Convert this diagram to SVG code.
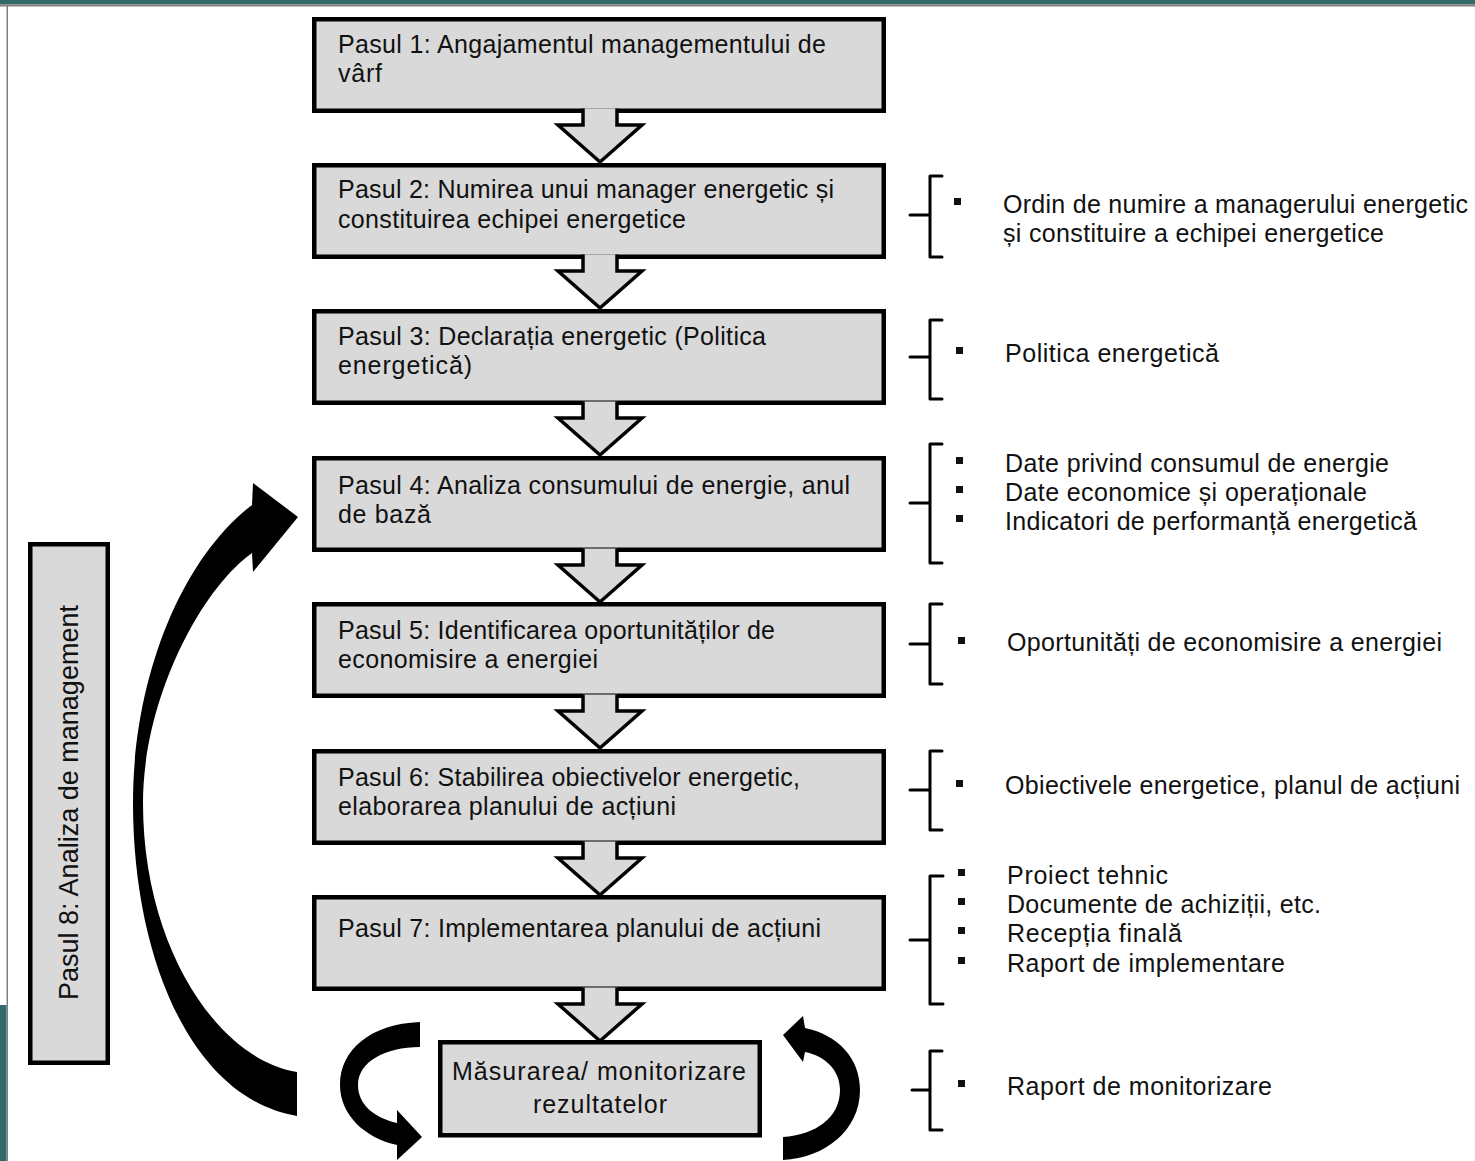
<svg xmlns="http://www.w3.org/2000/svg" xmlns:xlink="http://www.w3.org/1999/xlink" width="1475" height="1161" viewBox="0 0 1475 1161">
<defs>
<style>
.box{fill:#d9d9d9;stroke:#000;stroke-width:4.5}
.t{font-family:"Liberation Sans",Arial,sans-serif;font-size:25px;fill:#111}
.brace{fill:none;stroke:#000;stroke-width:3;stroke-linecap:round;stroke-linejoin:round}
.bul{fill:#111}
.dn{fill:#d9d9d9;stroke:#000;stroke-width:3.5;stroke-linejoin:miter}
.blk{fill:#000}
</style>
<path id="dn" class="dn" d="M583,-4.5 L583,12 L558,12 L600,49 L642,12 L617,12 L617,-4.5"/>
</defs>
<rect x="0" y="0" width="1475" height="1161" fill="#fff"/>
<rect x="0" y="0" width="1475" height="4.5" fill="#336a69"/>
<rect x="0" y="4.5" width="1475" height="2" fill="#808080"/>
<rect x="6.5" y="6" width="1.5" height="1155" fill="#808080"/>
<rect x="0" y="1005" width="6.5" height="156" fill="#336a69"/>

<g id="node-step1"><rect class="box" x="314.25" y="19.25" width="569.5" height="91.5"/>
<text class="t" x="338" y="53" textLength="488">Pasul 1: Angajamentul managementului de</text>
<text class="t" x="338" y="82" textLength="44">vârf</text></g>

<g id="node-step2"><rect class="box" x="314.25" y="165.25" width="569.5" height="91.5"/>
<text class="t" x="338" y="198" textLength="496">Pasul 2: Numirea unui manager energetic și</text>
<text class="t" x="338" y="228" textLength="348">constituirea echipei energetice</text></g>

<g id="node-step3"><rect class="box" x="314.25" y="311.25" width="569.5" height="91.5"/>
<text class="t" x="338" y="345" textLength="428">Pasul 3: Declarația energetic (Politica</text>
<text class="t" x="338" y="374" textLength="134">energetică)</text></g>

<g id="node-step4"><rect class="box" x="314.25" y="458.25" width="569.5" height="91.5"/>
<text class="t" x="338" y="494" textLength="512">Pasul 4: Analiza consumului de energie, anul</text>
<text class="t" x="338" y="523" textLength="93">de bază</text></g>

<g id="node-step5"><rect class="box" x="314.25" y="604.25" width="569.5" height="91.5"/>
<text class="t" x="338" y="639" textLength="437">Pasul 5: Identificarea oportunităților de</text>
<text class="t" x="338" y="668" textLength="260">economisire a energiei</text></g>

<g id="node-step6"><rect class="box" x="314.25" y="751.25" width="569.5" height="91.5"/>
<text class="t" x="338" y="786" textLength="462">Pasul 6: Stabilirea obiectivelor energetic,</text>
<text class="t" x="338" y="815" textLength="338">elaborarea planului de acțiuni</text></g>

<g id="node-step7"><rect class="box" x="314.25" y="897.25" width="569.5" height="91.5"/>
<text class="t" x="338" y="937" textLength="483">Pasul 7: Implementarea planului de acțiuni</text></g>

<g id="node-measure"><rect class="box" x="440.25" y="1042.25" width="319.5" height="93"/>
<text class="t" x="452" y="1080" textLength="294">Măsurarea/ monitorizare</text>
<text class="t" x="533" y="1113" textLength="134">rezultatelor</text></g>

<g id="node-step8"><rect class="box" x="30.25" y="544.25" width="77.5" height="518.5"/>
<text class="t" style="font-size:27px" transform="translate(78,1000) rotate(-90)" textLength="395">Pasul 8: Analiza de management</text></g>

<g id="connectors">
<use xlink:href="#dn" href="#dn" transform="translate(0,113)"/>
<use xlink:href="#dn" href="#dn" transform="translate(0,259)"/>
<use xlink:href="#dn" href="#dn" transform="translate(0,406)"/>
<use xlink:href="#dn" href="#dn" transform="translate(0,553)"/>
<use xlink:href="#dn" href="#dn" transform="translate(0,699)"/>
<use xlink:href="#dn" href="#dn" transform="translate(0,846)"/>
<use xlink:href="#dn" href="#dn" transform="translate(0,992)"/>
<path class="blk" d="M297,1116 C190,1098 133,955 133,803 C133,680 180,560 252,505 L253,483 L298,517 L253,572 L252,553 C200,590 143,700 143,803 C143,950 220,1060 297,1072 Z"/>
<path class="blk" d="M420,1022 C370,1024 340,1050 340,1085 C340,1115 365,1138 397,1145 L397,1160 L422,1137 L397,1110 L397,1123 C375,1118 358,1105 358,1085 C358,1062 385,1047 420,1047 Z"/>
<path class="blk" d="M783,1035 L803,1016 L805,1028 C838,1035 860,1058 860,1090 C860,1130 825,1158 783,1160 L783,1137 C815,1135 840,1118 840,1090 C840,1070 825,1056 805,1052 L803,1062 Z"/>
</g>

<g id="outputs">
<path class="brace" d="M942,176 L930,176 L930,257 L942,257 M930,215 L910,215"/>
<rect class="bul" x="954" y="198" width="7" height="7"/>
<text class="t" x="1003" y="213" textLength="465">Ordin de numire a managerului energetic</text>
<text class="t" x="1003" y="242" textLength="381">și constituire a echipei energetice</text>

<path class="brace" d="M942,320 L930,320 L930,399 L942,399 M930,357 L910,357"/>
<rect class="bul" x="956" y="347" width="7" height="7"/>
<text class="t" x="1005" y="362" textLength="214">Politica energetică</text>

<path class="brace" d="M942,444 L930,444 L930,563 L942,563 M930,503 L910,503"/>
<rect class="bul" x="956" y="457" width="7" height="7"/>
<rect class="bul" x="956" y="486" width="7" height="7"/>
<rect class="bul" x="956" y="515" width="7" height="7"/>
<text class="t" x="1005" y="472" textLength="384">Date privind consumul de energie</text>
<text class="t" x="1005" y="501" textLength="362">Date economice și operaționale</text>
<text class="t" x="1005" y="530" textLength="412">Indicatori de performanță energetică</text>

<path class="brace" d="M942,604 L930,604 L930,684 L942,684 M930,644 L910,644"/>
<rect class="bul" x="958" y="637" width="7" height="7"/>
<text class="t" x="1007" y="651" textLength="435">Oportunități de economisire a energiei</text>

<path class="brace" d="M942,751 L930,751 L930,830 L942,830 M930,790 L910,790"/>
<rect class="bul" x="956" y="780" width="7" height="7"/>
<text class="t" x="1005" y="794" textLength="455">Obiectivele energetice, planul de acțiuni</text>

<path class="brace" d="M943,876 L930,876 L930,1004 L943,1004 M930,940 L910,940"/>
<rect class="bul" x="958" y="869" width="7" height="7"/>
<rect class="bul" x="958" y="898" width="7" height="7"/>
<rect class="bul" x="958" y="927" width="7" height="7"/>
<rect class="bul" x="958" y="957" width="7" height="7"/>
<text class="t" x="1007" y="884" textLength="161">Proiect tehnic</text>
<text class="t" x="1007" y="913" textLength="314">Documente de achiziții, etc.</text>
<text class="t" x="1007" y="942" textLength="175">Recepția finală</text>
<text class="t" x="1007" y="972" textLength="278">Raport de implementare</text>

<path class="brace" d="M942,1051 L930,1051 L930,1130 L942,1130 M930,1090 L912,1090"/>
<rect class="bul" x="958" y="1080" width="7" height="7"/>
<text class="t" x="1007" y="1095" textLength="265">Raport de monitorizare</text>
</g>
</svg>
